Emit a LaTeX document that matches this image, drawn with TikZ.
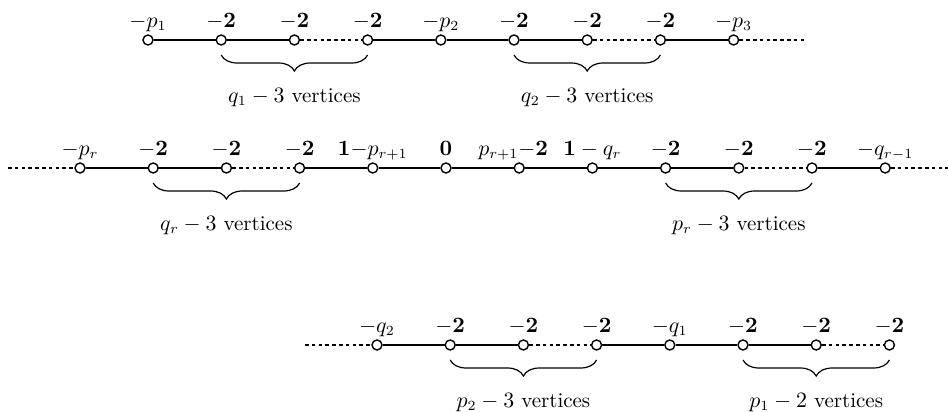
\documentclass[tikz,border=0pt]{standalone}
\usepackage{amsmath}
\usetikzlibrary{positioning, decorations.pathreplacing}

\begin{document}
\begin{tikzpicture}[x=0.5pt, y=-0.5pt, node distance=36.6pt, font=\fontsize{10.5}{12}\selectfont]
    % Define styles for the chain
    \tikzstyle{vertex} = [circle, draw=black, fill=white, line width=0.7pt, inner sep=0pt, minimum size=5pt]
    \tikzstyle{edge} = [line width=0.6pt]
    \tikzstyle{gap} = [line width=0.6pt, dash pattern=on 1.8pt off 1.6pt]
    \tikzstyle{curly} = [decorate, decoration={brace, mirror, amplitude=8pt}, line width=0.6pt]
    \tikzset{every label/.style={text height=1.6ex, text depth=0.45ex, inner sep=1.5pt}}

    \useasboundingbox (0,0) rectangle (948,412);

    % First chain
    \node (a1) [vertex, label=above:$-p_1$] at (148,40) {};
    \node (a2) [vertex, right of=a1, label=above:$-\mathbf{2}$] {};
    \node (a3) [vertex, right of=a2, label=above:$-\mathbf{2}$] {};
    \node (a4) [vertex, right of=a3, label=above:$-\mathbf{2}$] {};
    \node (a5) [vertex, right of=a4, label=above:$-p_2$] {};
    \node (a6) [vertex, right of=a5, label=above:$-\mathbf{2}$] {};
    \node (a7) [vertex, right of=a6, label=above:$-\mathbf{2}$] {};
    \node (a8) [vertex, right of=a7, label=above:$-\mathbf{2}$] {};
    \node (a9) [vertex, right of=a8, label=above:$-p_3$] {};
    \coordinate (aend) at ([xshift=36.6pt]a9.center);

    \draw [edge] (a1) -- (a2);
    \draw [edge] (a2) -- (a3);
    \draw [gap] (a3) -- (a4);
    \draw [edge] (a4) -- (a5);
    \draw [edge] (a5) -- (a6);
    \draw [edge] (a6) -- (a7);
    \draw [gap] (a7) -- (a8);
    \draw [edge] (a8) -- (a9);
    \draw [gap] (a9) -- (aend);

    \draw [curly] ([yshift=-7.5pt]a2.center) -- ([yshift=-7.5pt]a4.center)
        node (na1) [midway, below=13pt] {$q_1-3$ vertices};
    \draw [curly] ([yshift=-7.5pt]a6.center) -- ([yshift=-7.5pt]a8.center)
        node (na2) [midway, below=13pt] {$q_2-3$ vertices};

    % Middle chain
    \coordinate (bstart) at (8,168);
    \node (b1) [vertex, label=above:$-p_r$] at (80,168) {};
    \node (b2) [vertex, right of=b1, label=above:$-\mathbf{2}$] {};
    \node (b3) [vertex, right of=b2, label=above:$-\mathbf{2}$] {};
    \node (b4) [vertex, right of=b3, label=above:$-\mathbf{2}$] {};
    \node (b5) [vertex, right of=b4, label=above:$\mathbf{1}{-}p_{r+1}$] {};
    \node (b6) [vertex, right of=b5, label=above:$\mathbf{0}$] {};
    \node (b7) [vertex, right of=b6, label={[xshift=-3pt]above:$p_{r+1}{-}\mathbf{2}$}] {};
    \node (b8) [vertex, right of=b7, label=above:$\mathbf{1}-q_r$] {};
    \node (b9) [vertex, right of=b8, label=above:$-\mathbf{2}$] {};
    \node (b10) [vertex, right of=b9, label=above:$-\mathbf{2}$] {};
    \node (b11) [vertex, right of=b10, label=above:$-\mathbf{2}$] {};
    \node (b12) [vertex, right of=b11, label=above:$-q_{r-1}$] {};
    \coordinate (bend) at (948,168);

    \draw [gap] (bstart) -- (b1);
    \draw [edge] (b1) -- (b2);
    \draw [edge] (b2) -- (b3);
    \draw [gap] (b3) -- (b4);
    \draw [edge] (b4) -- (b5);
    \draw [edge] (b5) -- (b6);
    \draw [edge] (b6) -- (b7);
    \draw [edge] (b7) -- (b8);
    \draw [edge] (b8) -- (b9);
    \draw [edge] (b9) -- (b10);
    \draw [gap] (b10) -- (b11);
    \draw [edge] (b11) -- (b12);
    \draw [gap] (b12) -- (bend);

    \draw [curly] ([yshift=-7.5pt]b2.center) -- ([yshift=-7.5pt]b4.center)
        node (nb1) [midway, below=13pt] {$q_r-3$ vertices};
    \draw [curly] ([yshift=-7.5pt]b9.center) -- ([yshift=-7.5pt]b11.center)
        node (nb2) [midway, below=13pt] {$p_r-3$ vertices};

    % Last chain
    \coordinate (cstart) at (305,345);
    \node (c1) [vertex, label=above:$-q_2$] at (377,345) {};
    \node (c2) [vertex, right of=c1, label=above:$-\mathbf{2}$] {};
    \node (c3) [vertex, right of=c2, label=above:$-\mathbf{2}$] {};
    \node (c4) [vertex, right of=c3, label=above:$-\mathbf{2}$] {};
    \node (c5) [vertex, right of=c4, label=above:$-q_1$] {};
    \node (c6) [vertex, right of=c5, label=above:$-\mathbf{2}$] {};
    \node (c7) [vertex, right of=c6, label=above:$-\mathbf{2}$] {};
    \node (c8) [vertex, right of=c7, label=above:$-\mathbf{2}$] {};

    \draw [gap] (cstart) -- (c1);
    \draw [edge] (c1) -- (c2);
    \draw [edge] (c2) -- (c3);
    \draw [gap] (c3) -- (c4);
    \draw [edge] (c4) -- (c5);
    \draw [edge] (c5) -- (c6);
    \draw [edge] (c6) -- (c7);
    \draw [gap] (c7) -- (c8);

    \draw [curly] ([yshift=-7.5pt]c2.center) -- ([yshift=-7.5pt]c4.center)
        node (nc1) [midway, below=13pt] {$p_2-3$ vertices};
    \draw [curly] ([yshift=-7.5pt]c6.center) -- ([yshift=-7.5pt]c8.center)
        node (nc2) [midway, below=13pt] {$p_1-2$ vertices};

\end{tikzpicture}
\end{document}
